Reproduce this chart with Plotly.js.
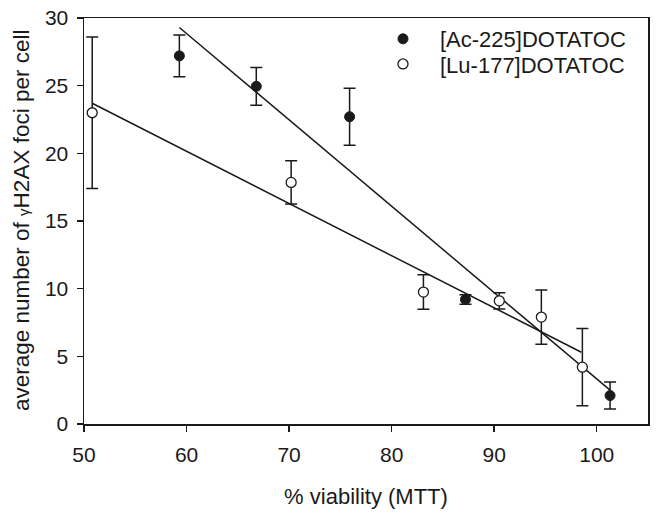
<!DOCTYPE html>
<html>
<head>
<meta charset="utf-8">
<script src="https://cdn.plot.ly/plotly-3.0.1.min.js"></script>
<style>
  html, body { margin: 0; padding: 0; background: #fff; }
  #chart { width: 658px; height: 513px; }
</style>
</head>
<body>
<div id="chart"></div>
<script>
// Ac-225 points (filled)
var acX = [59.3, 66.8, 75.9, 87.2, 101.3];
var acY = [27.2, 24.95, 22.7, 9.2, 2.1];
var acErr = [1.55, 1.4, 2.1, 0.35, 1.0];

// Lu-177 points (open)
var luX = [50.8, 70.2, 83.1, 90.5, 94.6, 98.6];
var luY = [23.0, 17.85, 9.75, 9.1, 7.9, 4.2];
var luErr = [5.6, 1.6, 1.27, 0.6, 2.0, 2.85];

// regression lines, end points
var acFitX = [59.3, 101.3];
var acFitY = [29.3, 2.5];
var luFitX = [50.8, 98.5];
var luFitY = [23.7, 5.3];

var fontFam = 'Arial, "Liberation Sans", sans-serif';
var ink = '#1a1a1a';

var traces = [
  {
    x: acFitX, y: acFitY, mode: 'lines', showlegend: false, hoverinfo: 'skip',
    line: {color: ink, width: 1.5}
  },
  {
    x: luFitX, y: luFitY, mode: 'lines', showlegend: false, hoverinfo: 'skip',
    line: {color: ink, width: 1.5}
  },
  {
    x: acX, y: acY, mode: 'markers', name: '[Ac-225]DOTATOC', legend: 'legend',
    marker: {size: 10, color: ink, line: {color: ink, width: 1}},
    error_y: {type: 'data', array: acErr, visible: true, color: ink, thickness: 1.5, width: 6}
  },
  {
    x: luX, y: luY, mode: 'markers', name: '[Lu-177]DOTATOC', legend: 'legend2',
    marker: {size: 10, color: '#fff', line: {color: ink, width: 1.3}},
    error_y: {type: 'data', array: luErr, visible: true, color: ink, thickness: 1.5, width: 6}
  }
];

var legendBase = {
  xanchor: 'left', yanchor: 'top', itemwidth: 64,
  font: {size: 22, family: fontFam, color: ink},
  bgcolor: 'rgba(0,0,0,0)'
};

var layout = {
  width: 658,
  height: 513,
  margin: {l: 84, r: 10, t: 18, b: 89},
  paper_bgcolor: '#fff',
  plot_bgcolor: '#fff',
  font: {family: fontFam, color: ink, size: 21},
  showlegend: true,
  legend: Object.assign({}, legendBase, {x: 0.5, y: 1}),
  legend2: Object.assign({}, legendBase, {x: 0.5, y: 0.938}),
  xaxis: {
    range: [50, 105], dtick: 10, tick0: 50,
    showgrid: false, zeroline: false,
    showline: true, linecolor: ink, linewidth: 1.5, mirror: true,
    ticks: 'outside', ticklen: 6, tickwidth: 1.5, tickcolor: ink,
    tickfont: {size: 21}, ticklabelstandoff: 5,
    title: {text: '% viability (MTT)', font: {size: 22}, standoff: 24}
  },
  yaxis: {
    range: [0, 30], dtick: 5,
    showgrid: false, zeroline: false,
    showline: true, linecolor: ink, linewidth: 1.5, mirror: true,
    ticks: 'outside', ticklen: 6, tickwidth: 1.5, tickcolor: ink,
    tickfont: {size: 21}, ticklabelstandoff: 4
  },
  // y title as an annotation so it can sit closer to the left edge
  annotations: [{
    text: 'average number of <span style="font-size:15px">γ</span>H2AX foci per cell',
    xref: 'paper', yref: 'paper', x: 0, y: 0.5,
    xanchor: 'center', yanchor: 'middle', xshift: -63,
    textangle: -90, showarrow: false,
    font: {size: 22.5, family: fontFam, color: ink}
  }]
};

Plotly.newPlot('chart', traces, layout, {displayModeBar: false, staticPlot: true});
</script>
</body>
</html>
